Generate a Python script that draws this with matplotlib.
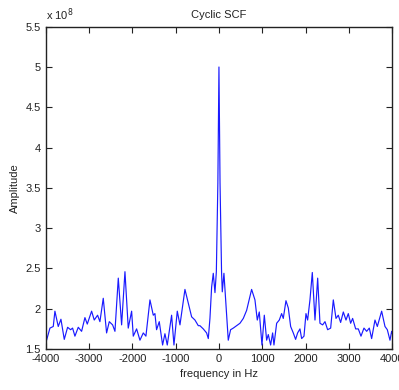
import numpy as np
import matplotlib
matplotlib.use('Agg')
import matplotlib.pyplot as plt

plt.rcParams['font.family'] = ['Liberation Sans', 'DejaVu Sans']

# frequency [Hz] and amplitude [x 1e8]
freq = np.array([
    -4000, -3979, -3902, -3825, -3787, -3710, -3648, -3571, -3494, -3425,
    -3379, -3325, -3248, -3171, -3094, -3040, -2940, -2879, -2802, -2748,
    -2671, -2594, -2532, -2455, -2401, -2324, -2247, -2170, -2094, -2016,
    -1978, -1901, -1824, -1747, -1686, -1593, -1516, -1478, -1440, -1378,
    -1301, -1247, -1193, -1093, -1039, -962, -900, -785, -631, -554,
    -477, -439, -362, -285, -246, -208, -169, -131, -92, -60,
    -25, 0, 25, 60, 77, 115, 215, 269, 331, 408,
    485, 562, 639, 754, 831, 885, 931, 993, 1047, 1101,
    1139, 1193, 1239, 1270, 1332, 1393, 1447, 1485, 1547, 1601,
    1655, 1716, 1770, 1816, 1870, 1909, 1963, 2009, 2047, 2101,
    2155, 2217, 2279, 2332, 2394, 2448, 2509, 2579, 2640, 2702,
    2755, 2809, 2871, 2933, 2986, 3040, 3086, 3156, 3217, 3279,
    3348, 3410, 3471, 3525, 3602, 3656, 3756, 3833, 3887, 3948,
    3987, 4000])
amp = np.array([
    1.70, 1.61, 1.76, 1.78, 1.97, 1.78, 1.87, 1.62, 1.77, 1.74,
    1.76, 1.66, 1.77, 1.72, 1.89, 1.81, 1.97, 1.86, 1.92, 1.84,
    2.13, 1.70, 1.84, 1.80, 1.72, 2.38, 1.80, 2.46, 1.76, 1.97,
    1.66, 1.75, 1.61, 1.70, 1.66, 2.11, 1.92, 1.94, 1.74, 1.84,
    1.55, 1.69, 1.55, 1.92, 1.55, 1.97, 1.80, 2.24, 1.90, 1.86,
    1.79, 1.79, 1.75, 1.70, 1.63, 1.88, 2.27, 2.44, 2.20, 2.46,
    3.56, 5.00, 3.56, 2.46, 2.21, 2.44, 1.61, 1.74, 1.76, 1.79,
    1.82, 1.88, 1.98, 2.24, 2.11, 1.86, 1.96, 1.55, 1.92, 1.61,
    1.68, 1.55, 1.70, 1.55, 1.82, 1.86, 1.94, 1.88, 2.10, 2.01,
    1.78, 1.70, 1.62, 1.70, 1.75, 1.63, 1.66, 1.94, 1.86, 2.11,
    2.45, 1.86, 2.38, 1.82, 1.80, 1.84, 1.74, 1.76, 2.11, 1.88,
    1.92, 1.83, 1.96, 1.86, 1.94, 1.82, 1.88, 1.75, 1.75, 1.66,
    1.76, 1.72, 1.76, 1.63, 1.86, 1.78, 1.97, 1.78, 1.74, 1.61,
    1.72, 1.70])

xticks = [-4000, -3000, -2000, -1000, 0, 1000, 2000, 3000, 4000]
yticks = [1.5, 2, 2.5, 3, 3.5, 4, 4.5, 5, 5.5]
ytick_labels = ['1.5', '2', '2.5', '3', '3.5', '4', '4.5', '5', '5.5']

fig = plt.figure(figsize=(3.99, 3.90), dpi=100)
ax = fig.add_axes([0.1145, 0.105, 0.8685, 0.8265])

ax.plot(freq, amp, color='#1a1aff', lw=0.85)

ax.set_xlim(-4000, 4000)
ax.set_ylim(1.5, 5.5)
ax.set_xticks(xticks)
ax.set_xticklabels([str(t) for t in xticks])
ax.set_yticks(yticks)
ax.set_yticklabels(ytick_labels)
ax.tick_params(direction='in', length=4, width=0.8, top=True, right=True,
               labelsize=8, pad=3.5, colors='#222222', labelcolor='#222222')
for s in ax.spines.values():
    s.set_linewidth(1.0)
    s.set_color('#222222')

ax.set_title('Cyclic SCF', fontsize=8, pad=6, color='#222222')
ax.set_xlabel('frequency in Hz', fontsize=8, labelpad=4, color='#222222')
ax.set_ylabel('Amplitude', fontsize=8, labelpad=4, color='#222222')
ax.text(0.0, 1.012, r'x 10$^{8}$', transform=ax.transAxes, fontsize=8,
        ha='left', va='bottom', color='#222222')

fig.savefig('out.png', dpi=100)
